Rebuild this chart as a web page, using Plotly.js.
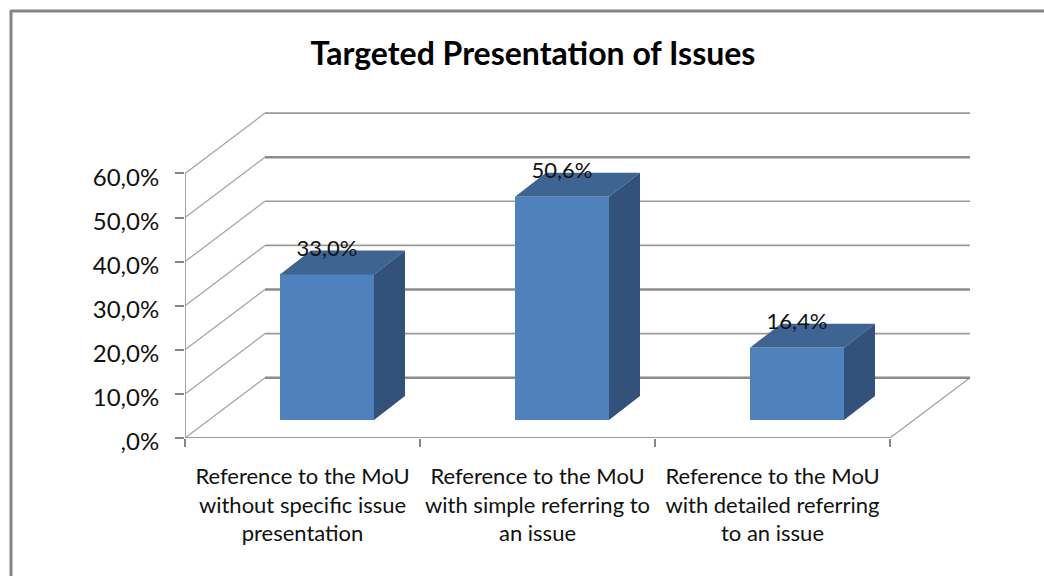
<!DOCTYPE html>
<html>
<head>
<meta charset="utf-8">
<script src="https://cdn.plot.ly/plotly-3.0.1.min.js"></script>
<style>html,body{margin:0;padding:0;background:#fff}#c{width:1044px;height:576px}</style>
</head>
<body>
<div id="c"></div>
<script>
const titleText = "Targeted Presentation of Issues";
const categories = [
  "Reference to the MoU<br>without specific issue<br>presentation",
  "Reference to the MoU<br>with simple referring to<br>an issue",
  "Reference to the MoU<br>with detailed referring<br>to an issue"
];
const values = [33.0, 50.6, 16.4];
const barLabels = ["33,0%", "50,6%", "16,4%"];
const yTicks = [0, 10, 20, 30, 40, 50, 60];
const yTickLabels = [",0%", "10,0%", "20,0%", "30,0%", "40,0%", "50,0%", "60,0%"];
const heavyTicks = [0, 20, 50];

// Projection constants of the pseudo-3D box, in axis units
const W = 1044, H = 576, L = 185, R = 972, T = 112, B = 438;
const pxX = 235, pxY = 4.41;
const xRange = [-0.5, -0.5 + (R - L) / pxX];
const yRange = [0, (B - T) / pxY];
const wallDx = 80 / pxX, wallDy = 60.3 / pxY;
const barDx = 31 / pxX, barDy = 24 / pxY;
const barBase = 18 / pxY, barWidth = 94 / pxX, barOffset = -0.0957;
const labelLift = 24 / pxY;
const xEnd = 2.5, xStart = -0.5;

const gridColor = "#9b9b9b";
const diagX = [], diagY = [], backX = [], backY = [], heavyX = [], heavyY = [];
yTicks.forEach(v => {
  diagX.push(xStart, xStart + wallDx, null);
  diagY.push(v, v + wallDy, null);
  const tx = heavyTicks.includes(v) ? heavyX : backX;
  const ty = heavyTicks.includes(v) ? heavyY : backY;
  tx.push(xStart + wallDx, xEnd + wallDx, null);
  ty.push(v + wallDy, v + wallDy, null);
});
diagX.push(xEnd, xEnd + wallDx, null);
diagY.push(0, wallDy, null);

const topX = [], topY = [], sideX = [], sideY = [];
values.forEach((v, i) => {
  const l = i + barOffset, r = l + barWidth, t = barBase + v, b = barBase;
  topX.push(l, l + barDx, r + barDx, r, l, null);
  topY.push(t, t + barDy, t + barDy, t, t, null);
  sideX.push(r, r + barDx, r + barDx, r, r, null);
  sideY.push(t, t + barDy, b + barDy, b, t, null);
});

const line = (x, y, width, color) => ({
  type: "scatter", mode: "lines", x, y, hoverinfo: "skip", showlegend: false,
  line: {color, width}
});
const data = [
  line(diagX, diagY, 1.2, "#a0a0a0"),
  line(backX, backY, 1.6, gridColor),
  line(heavyX, heavyY, 2.6, "#8c8c8c"),
  line([xStart, xEnd], [0, 0], 2, "#9b9b9b"),
  line([xStart, xStart], [0, 60], 2, "#a3a3a3"),
  {type: "bar", xaxis: "x2", yaxis: "y2", x: [0, 1, 2], y: values, base: barBase,
   width: barWidth, offset: barOffset, hoverinfo: "skip", showlegend: false,
   marker: {color: "#4f81bd", line: {width: 0}}},
  {type: "scatter", mode: "lines", xaxis: "x2", yaxis: "y2", x: topX, y: topY, fill: "toself",
   fillcolor: "#3e6491", line: {width: 0, color: "#3e6491"}, hoverinfo: "skip", showlegend: false},
  {type: "scatter", mode: "lines", xaxis: "x2", yaxis: "y2", x: sideX, y: sideY, fill: "toself",
   fillcolor: "#32527c", line: {width: 0, color: "#32527c"}, hoverinfo: "skip", showlegend: false},
  {type: "scatter", mode: "text", xaxis: "x2", yaxis: "y2",
   x: values.map((v, i) => i + barOffset + barWidth / 2),
   y: values.map(v => v + barBase + labelLift),
   text: barLabels, textposition: "middle center",
   textfont: {family: "Lato, sans-serif", size: 22, color: "#111"},
   hoverinfo: "skip", showlegend: false}
];

const frameColor = "#858585";
const px = p => (p - L) / (R - L), py = p => (B - p) / (B - T);
const layout = {
  width: W, height: H,
  margin: {l: L, r: W - R, t: T, b: H - B, pad: 0},
  paper_bgcolor: "#fff", plot_bgcolor: "rgba(0,0,0,0)",
  showlegend: false, bargap: 0,
  font: {family: "Lato, sans-serif", color: "#111"},
  title: {text: titleText, x: 533 / W, xanchor: "center", y: 1 - 54 / H, yanchor: "middle",
          font: {family: "Lato, sans-serif", size: 32, weight: 700, color: "#000"}},
  xaxis: {
    range: xRange, tickmode: "array", tickvals: [0, 1, 2], ticktext: categories,
    ticks: "", showgrid: false, zeroline: false, showline: false, ticklabelstandoff: 23,
    tickfont: {size: 22, color: "#111"},
    minor: {ticks: "outside", tickmode: "array", tickvals: [-0.5, 0.5, 1.5, 2.5],
            ticklen: 8, tickwidth: 2, tickcolor: "#868686", showgrid: false}
  },
  yaxis: {
    range: yRange, tickmode: "array", tickvals: yTicks, ticktext: yTickLabels,
    ticks: "outside", ticklen: 9, tickwidth: 2, tickcolor: "#868686",
    showgrid: false, zeroline: false, showline: false, ticklabelstandoff: 11,
    ticklabelshift: 4,
    tickfont: {size: 24, color: "#111"}
  },
  xaxis2: {range: xRange, overlaying: "x", visible: false},
  yaxis2: {range: yRange, overlaying: "y", visible: false},
  shapes: [
    {type: "line", xref: "paper", yref: "paper", x0: px(11), x1: px(W), y0: py(11), y1: py(11),
     line: {color: frameColor, width: 3}},
    {type: "line", xref: "paper", yref: "paper", x0: px(11), x1: px(11), y0: py(10), y1: py(H),
     line: {color: frameColor, width: 3}}
  ]
};
Plotly.newPlot("c", data, layout, {displayModeBar: false, staticPlot: true});
</script>
</body>
</html>
